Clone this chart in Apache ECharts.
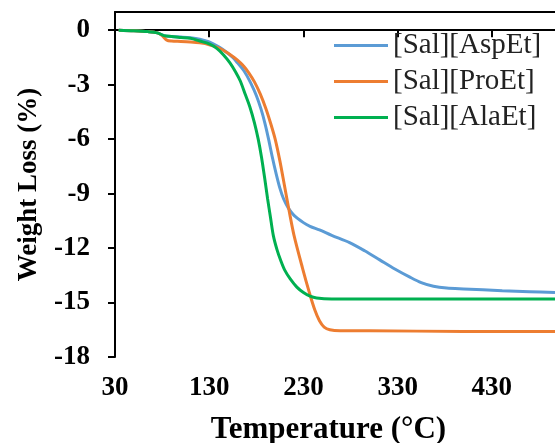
<!DOCTYPE html>
<html>
<head>
<meta charset="utf-8">
<script src="https://cdn.jsdelivr.net/npm/echarts@6/dist/echarts.min.js"></script>
<style>
html,body{margin:0;padding:0;background:#fff;}
#chart{width:555px;height:443px;}
</style>
</head>
<body>
<div id="chart"></div>
<script>
// Temperature (°C) / weight loss (%) pairs
const aspEtT = [34,50,65,75,82,90,100,110,120,130,141,148,155,160,167,174,180,185,189,193,197,201,205,209,214,220,230,237,247,260,279,295,311,327,343,355,368,382,400,441,470,497];
const aspEtW = [0,-0.03,-0.08,-0.15,-0.3,-0.35,-0.38,-0.42,-0.5,-0.65,-0.95,-1.2,-1.5,-1.8,-2.25,-2.9,-3.6,-4.35,-5.1,-6.0,-7.0,-7.9,-8.7,-9.3,-9.8,-10.2,-10.6,-10.8,-11.0,-11.3,-11.7,-12.15,-12.65,-13.15,-13.6,-13.9,-14.1,-14.2,-14.25,-14.35,-14.4,-14.45];

const proEtT = [34,50,65,75,80,85,90,100,110,120,130,141,148,155,160,166,172,178,184,190,195,200,205,210,215,220,229,236,242,247,252,258,269,300,400,497];
const proEtW = [0,-0.03,-0.08,-0.15,-0.3,-0.55,-0.6,-0.62,-0.65,-0.7,-0.8,-1.0,-1.2,-1.45,-1.65,-1.95,-2.35,-2.85,-3.5,-4.3,-5.1,-6.0,-7.2,-8.6,-10.0,-11.3,-13.1,-14.4,-15.4,-16.0,-16.35,-16.5,-16.55,-16.55,-16.6,-16.6];

const alaEtT = [34,50,65,75,82,90,100,110,120,130,138,145,152,158,163,168,173,178,182,185.5,189,192,195,198,202,206,210,216,223,230,237,244,260,300,400,497];
const alaEtW = [0,-0.03,-0.08,-0.15,-0.3,-0.35,-0.4,-0.45,-0.6,-0.75,-1.0,-1.35,-1.8,-2.3,-2.8,-3.5,-4.2,-5.1,-6.0,-7.0,-8.2,-9.3,-10.3,-11.3,-12.1,-12.7,-13.2,-13.7,-14.15,-14.45,-14.65,-14.75,-14.8,-14.8,-14.8,-14.8];

const seriesNames = ['[Sal][AspEt]','[Sal][ProEt]','[Sal][AlaEt]'];
const xTicks = [30,130,230,330,430];
const yTicks = [-18,-15,-12,-9,-6,-3,0];

function pairs(t, w){ return t.map((v,i)=>[v,w[i]]); }

const font = 'Liberation Serif, Times New Roman, serif';
const chart = echarts.init(document.getElementById('chart'));
const colors = ['#5B9BD5','#ED7D31','#00B050'];
const data = [pairs(aspEtT,aspEtW), pairs(proEtT,proEtW), pairs(alaEtT,alaEtW)];

chart.setOption({
  animation:false,
  grid:{left:115,right:0,top:12,bottom:86,containLabel:false,outerBoundsMode:'none'},
  legend:{
    orient:'vertical', left:329, top:26, align:'left',
    icon:'rect', itemWidth:54, itemHeight:3, itemGap:7,
    textStyle:{fontFamily:font,fontSize:29,color:'#222'},
    data:seriesNames
  },
  xAxis:[{
    type:'value', min:30, max:497, position:'bottom',
    name:'Temperature (°C)', nameLocation:'middle', nameGap:57,
    nameTextStyle:{fontFamily:font,fontSize:31,fontWeight:'bold',color:'#000',padding:[0,13,0,0]},
    axisLine:{show:true,lineStyle:{color:'#000',width:2}},
    axisTick:{show:true,length:7,lineStyle:{color:'#000',width:2},customValues:xTicks},
    axisLabel:{fontFamily:font,fontSize:27,fontWeight:'bold',color:'#000',margin:18,customValues:xTicks},
    splitLine:{show:false}
  },{
    type:'value', min:30, max:497, position:'top',
    axisLine:{show:true,lineStyle:{color:'#000',width:2}},
    axisTick:{show:false}, axisLabel:{show:false}, splitLine:{show:false}
  }],
  yAxis:{
    type:'value', min:-18, max:1,
    name:'Weight Loss (%)', nameLocation:'middle', nameGap:72, nameRotate:90,
    nameTextStyle:{fontFamily:font,fontSize:27,fontWeight:'bold',color:'#000'},
    axisLine:{show:true,lineStyle:{color:'#000',width:2}},
    axisTick:{show:true,length:7,lineStyle:{color:'#000',width:2},customValues:yTicks},
    axisLabel:{fontFamily:font,fontSize:27,fontWeight:'bold',color:'#000',margin:25,customValues:yTicks},
    splitLine:{show:false}
  },
  series:seriesNames.map((n,i)=>({
    name:n, type:'line', data:data[i], xAxisIndex:0,
    showSymbol:false, symbol:'none', smooth:0.3,
    lineStyle:{width:3,color:colors[i]}, itemStyle:{color:colors[i]}
  }))
});
</script>
</body>
</html>
